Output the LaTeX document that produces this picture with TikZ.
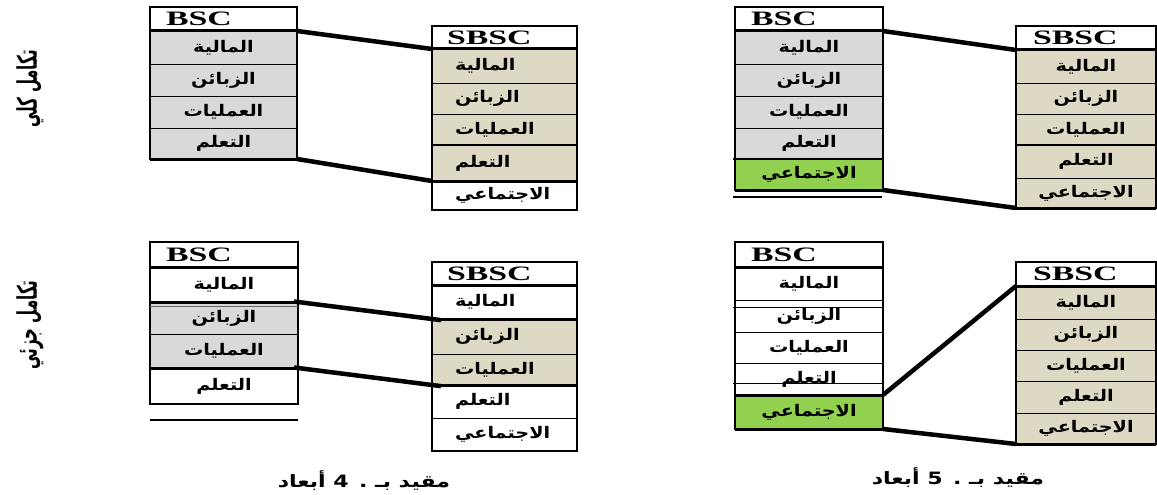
\documentclass[tikz,border=0pt]{standalone}
\usepackage{fontspec}
\usepackage{graphicx}
\setmainfont{Liberation Serif}
\newfontfamily\arabicfont[Script=Arabic]{DejaVu Sans}
\TeXXeTstate=1
\definecolor{cellgray}{HTML}{D9D9D9}
\definecolor{celltan}{HTML}{DDD9C4}
\definecolor{cellgreen}{HTML}{92D050}
% Arabic cell text, header text, side labels and captions
\newcommand\ar[1]{\scalebox{1.2}[1]{\arabicfont\bfseries\fontsize{16}{18}\selectfont\beginR #1\endR}}
\newcommand\hd[1]{\scalebox{1.65}[1]{\fontsize{20.5}{20.5}\selectfont\bfseries #1}}
\newcommand\sidetext[1]{\scalebox{1}[1.8]{\arabicfont\bfseries\fontsize{15}{17}\selectfont\beginR #1\endR}}
\newcommand\captext[1]{\scalebox{1.3}[1]{\arabicfont\bfseries\fontsize{17}{19}\selectfont\beginR #1\endR}}

\begin{document}
\begin{tikzpicture}[x=1pt,y=-1pt,
  cell/.style={draw=black, line width=0.6pt, inner sep=0pt, outer sep=0pt, anchor=north},
  hdr/.style={cell, anchor=north west, fill=white, align=left, inner xsep=16pt},
  lrow/.style={cell, align=left, inner xsep=23pt, text width=99pt},
  wL/.style={minimum width=147pt},
  wM/.style={minimum width=148pt},
  wS/.style={minimum width=145pt},
  wR/.style={minimum width=140pt},
  outline/.style={draw=black, line width=1.3pt},
  sep/.style={draw=black, line width=3pt},
  midsep/.style={draw=black, line width=1.8pt},
  rule/.style={draw=black, line width=1.2pt},
  link/.style={draw=black, line width=4.5pt},
]
\useasboundingbox (0,0) rectangle (1157,495);

% ---------- full integration, four dimensions ----------
\node[hdr, wL, text width=115pt, minimum height=24pt] (a0) at (150,7) {\hd{BSC}};
\node[cell, wL, fill=cellgray, minimum height=33pt] (a1) at (a0.south) {\ar{المالية}};
\node[cell, wL, fill=cellgray, minimum height=32pt] (a2) at (a1.south) {\ar{الزبائن}};
\node[cell, wL, fill=cellgray, minimum height=32pt] (a3) at (a2.south) {\ar{العمليات}};
\node[cell, wL, fill=cellgray, minimum height=31pt] (a4) at (a3.south) {\ar{التعلم}};

\node[hdr, wS, inner xsep=15pt, text width=115pt, minimum height=23pt] (sa0) at (432,26) {\hd{SBSC}};
\node[lrow, wS, fill=celltan, minimum height=34pt] (sa1) at (sa0.south) {\ar{المالية}};
\node[lrow, wS, fill=celltan, minimum height=31pt] (sa2) at (sa1.south) {\ar{الزبائن}};
\node[lrow, wS, fill=celltan, minimum height=31pt] (sa3) at (sa2.south) {\ar{العمليات}};
\node[lrow, wS, fill=celltan, minimum height=36pt] (sa4) at (sa3.south) {\ar{التعلم}};
\node[lrow, wS, fill=white, minimum height=29pt] (sa5) at (sa4.south) {\ar{الاجتماعي}};

\draw[outline] (a0.north west) rectangle (a4.south east);
\draw[outline] (sa0.north west) rectangle (sa5.south east);
\draw[sep] (a0.south west) -- (a0.south east);
\draw[sep] (a4.south west) -- (a4.south east);
\draw[sep] (sa0.south west) -- (sa0.south east);
\draw[midsep] (sa3.south west) -- (sa3.south east);
\draw[sep] (sa4.south west) -- (sa4.south east);
\draw[link] (a0.south east) -- (sa0.south west);
\draw[link] (a4.south east) -- (sa4.south west);

% ---------- full integration, five dimensions ----------
\node[hdr, wM, text width=116pt, minimum height=24pt] (b0) at (735,7) {\hd{BSC}};
\node[cell, wM, fill=cellgray, minimum height=33pt] (b1) at (b0.south) {\ar{المالية}};
\node[cell, wM, fill=cellgray, minimum height=32pt] (b2) at (b1.south) {\ar{الزبائن}};
\node[cell, wM, fill=cellgray, minimum height=32pt] (b3) at (b2.south) {\ar{العمليات}};
\node[cell, wM, fill=cellgray, minimum height=31pt] (b4) at (b3.south) {\ar{التعلم}};
\node[cell, wM, fill=cellgreen, minimum height=31pt] (b5) at (b4.south) {\ar{الاجتماعي}};

\node[hdr, wR, inner xsep=17pt, text width=106pt, minimum height=24pt] (sb0) at (1016,26) {\hd{SBSC}};
\node[cell, wR, fill=celltan, minimum height=33pt] (sb1) at (sb0.south) {\ar{المالية}};
\node[cell, wR, fill=celltan, minimum height=31pt] (sb2) at (sb1.south) {\ar{الزبائن}};
\node[cell, wR, fill=celltan, minimum height=31pt] (sb3) at (sb2.south) {\ar{العمليات}};
\node[cell, wR, fill=celltan, minimum height=33pt] (sb4) at (sb3.south) {\ar{التعلم}};
\node[cell, wR, fill=celltan, minimum height=30pt] (sb5) at (sb4.south) {\ar{الاجتماعي}};

\draw[outline] (b0.north west) rectangle (b5.south east);
\draw[outline] (sb0.north west) rectangle (sb5.south east);
\draw[sep] (b0.south west) -- (b0.south east);
\draw[rule] ([xshift=-2pt]b4.south west) -- (b4.south east);
\draw[sep] (b5.south west) -- (b5.south east);
\draw[rule] ([xshift=-2pt,yshift=-7pt]b5.south west) -- ([xshift=-1pt,yshift=-7pt]b5.south east);
\draw[sep] (sb0.south west) -- (sb0.south east);
\draw[midsep] (sb3.south west) -- (sb3.south east);
\draw[sep] (sb5.south west) -- (sb5.south east);
\draw[link] (b0.south east) -- (sb0.south west);
\draw[link] (b5.south east) -- (sb5.south west);

% ---------- partial integration, four dimensions ----------
\node[hdr, wM, text width=116pt, minimum height=25pt] (c0) at (150,242) {\hd{BSC}};
\node[cell, wM, fill=white, minimum height=35pt] (c1) at (c0.south) {\ar{المالية}};
\node[cell, wM, fill=cellgray, minimum height=32pt] (c2) at (c1.south) {\ar{الزبائن}};
\node[cell, wM, fill=cellgray, minimum height=34pt] (c3) at (c2.south) {\ar{العمليات}};
\node[cell, wM, fill=white, minimum height=36pt] (c4) at (c3.south) {\ar{التعلم}};

\node[hdr, wS, inner xsep=15pt, text width=115pt, minimum height=23pt] (sc0) at (432,262) {\hd{SBSC}};
\node[lrow, wS, fill=white, minimum height=34pt] (sc1) at (sc0.south) {\ar{المالية}};
\node[lrow, wS, fill=celltan, minimum height=35pt] (sc2) at (sc1.south) {\ar{الزبائن}};
\node[lrow, wS, fill=celltan, minimum height=31pt] (sc3) at (sc2.south) {\ar{العمليات}};
\node[lrow, wS, fill=white, minimum height=33pt] (sc4) at (sc3.south) {\ar{التعلم}};
\node[lrow, wS, fill=white, minimum height=33pt] (sc5) at (sc4.south) {\ar{الاجتماعي}};

\draw[outline] (c0.north west) rectangle (c4.south east);
\draw[outline] (sc0.north west) rectangle (sc5.south east);
\draw[sep] (c0.south west) -- (c0.south east);
\draw[sep] (c1.south west) -- (c1.south east);
\draw[draw=black!60, line width=0.9pt] ([yshift=-4pt]c1.south west) -- ([yshift=-4pt]c1.south east);
\draw[sep] (c3.south west) -- (c3.south east);
\draw[rule] ([yshift=-16pt]c4.south west) -- ([yshift=-16pt]c4.south east);
\draw[sep] (sc0.south west) -- (sc0.south east);
\draw[sep] (sc1.south west) -- (sc1.south east);
\draw[sep] (sc3.south west) -- (sc3.south east);
\draw[link, shorten <=-4pt, shorten >=-9pt] (c1.south east) -- (sc1.south west);
\draw[link, shorten <=-4pt, shorten >=-9pt] (c3.south east) -- (sc3.south west);

% ---------- partial integration, five dimensions ----------
\node[hdr, wM, text width=116pt, minimum height=25pt] (d0) at (735,242) {\hd{BSC}};
\node[cell, wM, fill=white, minimum height=33pt] (d1) at (d0.south) {\ar{المالية}};
\node[cell, wM, fill=white, minimum height=32pt] (d2) at (d1.south) {\ar{الزبائن}};
\node[cell, wM, fill=white, minimum height=31pt] (d3) at (d2.south) {\ar{العمليات}};
\node[cell, wM, fill=white, minimum height=32pt] (d4) at (d3.south) {\ar{التعلم}};
\node[cell, wM, fill=cellgreen, minimum height=34pt] (d5) at (d4.south) {\ar{الاجتماعي}};

\node[hdr, wR, inner xsep=17pt, text width=106pt, minimum height=24pt] (sd0) at (1016,262) {\hd{SBSC}};
\node[cell, wR, fill=celltan, minimum height=33pt] (sd1) at (sd0.south) {\ar{المالية}};
\node[cell, wR, fill=celltan, minimum height=31pt] (sd2) at (sd1.south) {\ar{الزبائن}};
\node[cell, wR, fill=celltan, minimum height=31pt] (sd3) at (sd2.south) {\ar{العمليات}};
\node[cell, wR, fill=celltan, minimum height=32pt] (sd4) at (sd3.south) {\ar{التعلم}};
\node[cell, wR, fill=celltan, minimum height=31pt] (sd5) at (sd4.south) {\ar{الاجتماعي}};

\draw[outline] (d0.north west) rectangle (d5.south east);
\draw[outline] (sd0.north west) rectangle (sd5.south east);
\draw[sep] (d0.south west) -- (d0.south east);
\draw[sep] (d4.south west) -- (d4.south east);
\draw[sep] (d5.south west) -- (d5.south east);
\draw[draw=black, line width=1pt] ([xshift=-2pt,yshift=-7pt]d2.north west) -- ([xshift=-1pt,yshift=-7pt]d2.north east);
\draw[draw=black, line width=1pt] ([xshift=-2pt,yshift=-20pt]d4.north west) -- ([xshift=-1pt,yshift=-20pt]d4.north east);
\draw[sep] (sd0.south west) -- (sd0.south east);
\draw[sep] (sd5.south west) -- (sd5.south east);
\draw[link] (d4.south east) -- (sd0.south west);
\draw[link] (d5.south east) -- (sd5.south west);

% ---------- row labels and captions ----------
\node[rotate=90, inner sep=0pt] (lfull) at (30,89) {\sidetext{تكامل كلي}};
\node[rotate=90, inner sep=0pt] (lpart) at (30,325) {\sidetext{تكامل جزئي}};
\node[inner sep=0pt] (cap4) at (364,481) {\captext{مقيد بـ . 4 أبعاد}};
\node[inner sep=0pt] (cap5) at (958,478) {\captext{مقيد بـ . 5 أبعاد}};
\end{tikzpicture}
\end{document}
